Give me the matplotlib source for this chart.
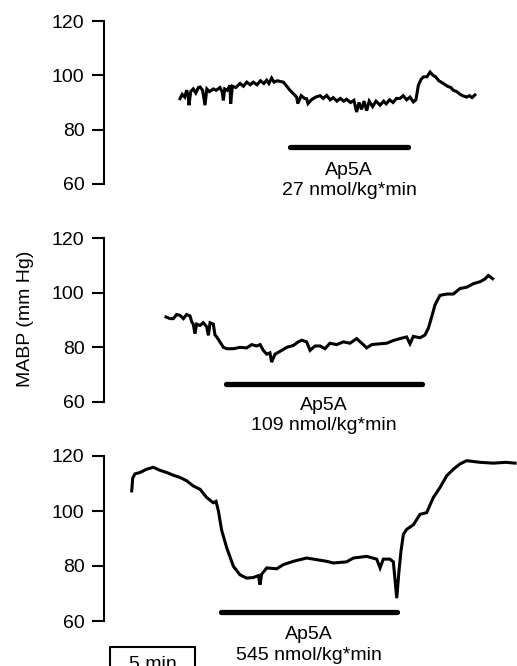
import matplotlib
matplotlib.use("Agg")
import matplotlib.pyplot as plt

plt.rcParams['font.family'] = ['Liberation Sans', 'DejaVu Sans']
plt.rcParams['font.size'] = 14

# time in minutes, pressure in mm Hg
top_t = [4.47, 4.6, 4.75, 4.86, 4.95, 5.0, 5.1, 5.25, 5.4, 5.55, 5.65, 5.8, 5.94, 6.05, 6.2,
         6.43, 6.6, 6.82, 6.95, 7.02, 7.1, 7.25, 7.41, 7.45, 7.55, 7.75, 8.0, 8.2, 8.4, 8.6,
         8.78, 9.0, 9.2, 9.4, 9.57, 9.7, 9.86, 10.0, 10.2, 10.55, 10.75, 10.94, 11.1, 11.33,
         11.4, 11.6, 11.8, 11.92, 12.0, 12.2, 12.45, 12.71, 12.9, 13.1, 13.3, 13.49, 13.7,
         13.9, 14.1, 14.27, 14.5, 14.7, 14.86, 15.0, 15.15, 15.3, 15.45, 15.6, 15.8, 16.0,
         16.24, 16.45, 16.6, 16.8, 17.0, 17.2, 17.41, 17.6, 17.8, 18.0, 18.2, 18.35, 18.49,
         18.65, 18.78, 19.0, 19.18, 19.35, 19.5, 19.7, 19.96, 20.2, 20.4, 20.55, 20.75, 20.95,
         21.1, 21.33, 21.5, 21.65, 21.82]
top_p = [91.4, 93, 92, 94.5, 92.5, 89, 94, 95, 93.5, 95.5, 95.7, 94.5, 89, 95, 94,
         95, 94.5, 95.5, 94, 90.8, 95, 94.5, 96.3, 89.5, 96, 95.5, 97, 96, 97.5, 96.5,
         97.5, 96.5, 98, 97, 98.2, 97, 99, 97.5, 98, 97.5, 96, 94.5, 93.5, 92,
         89.6, 92.5, 91.5, 91.4, 89.6, 91, 92, 92.5, 91.5, 92.6, 91, 91.8, 90.5,
         91.5, 90.5, 91.2, 90, 90.8, 86.5, 90, 87.5, 90.5, 87, 90.5, 88.5, 90.5,
         89, 90.5, 89.5, 91, 90, 91.5, 91.5, 92.5, 91, 92, 90.2, 91, 96.3,
         98.5, 99.4, 99.5, 101.2, 100, 99.5, 98, 97, 96, 95.5, 94.5, 94, 93,
         92.5, 92, 92.5, 91.8, 92.8]

mid_t = [3.65, 3.88, 4.08, 4.27, 4.47, 4.67, 4.86, 5.06, 5.16, 5.25, 5.35, 5.45, 5.65, 5.84,
         6.04, 6.14, 6.24, 6.43, 6.53, 6.63, 6.82, 7.02, 7.22, 7.61, 8.0, 8.39, 8.69, 8.98,
         9.18, 9.37, 9.57, 9.76, 9.86, 10.06, 10.35, 10.75, 11.14, 11.43, 11.63, 11.92, 12.12,
         12.41, 12.71, 13.0, 13.29, 13.69, 14.08, 14.47, 14.86, 15.25, 15.45, 15.75, 16.24,
         16.63, 17.02, 17.41, 17.8, 18.0, 18.2, 18.59, 18.88, 19.08, 19.27, 19.47, 19.76,
         20.16, 20.55, 20.94, 21.33, 21.73, 22.12, 22.41, 22.61, 22.86]
mid_p = [91.1, 90.5, 90.5, 92, 91.7, 90.5, 92, 91.5, 89.3, 88.5, 85, 88.5, 88, 89,
         87.5, 84.4, 89, 88.5, 84.5, 83.8, 82, 80, 79.5, 79.5, 80, 79.8, 81, 80.5,
         81, 78.9, 77.5, 78, 74.6, 77.5, 78.5, 80, 80.7, 82, 82.6, 82, 78.9,
         80.5, 80.5, 79.5, 81.5, 81, 82, 81.5, 83.2, 81, 79.8, 81, 81.3,
         81.5, 82.5, 83.2, 83.8, 81.3, 84, 83.5, 84.5, 87, 91, 95.5, 99,
         99.5, 99.5, 101.5, 102, 103.3, 104, 105, 106.3, 105.1]

bot_t = [1.63, 1.69, 1.82, 2.12, 2.51, 2.9, 3.29, 3.69, 4.08, 4.47, 4.86, 5.25, 5.65, 6.04,
         6.43, 6.59, 6.73, 6.92, 7.22, 7.61, 8.0, 8.39, 8.78, 9.08, 9.18, 9.27, 9.57, 10.16,
         10.55, 11.14, 11.92, 12.51, 13.1, 13.49, 14.27, 14.67, 15.45, 16.04, 16.24, 16.43,
         16.82, 17.02, 17.22, 17.35, 17.47, 17.61, 17.8, 18.2, 18.59, 18.98, 19.37, 19.76,
         20.16, 20.55, 20.94, 21.33, 22.12, 22.9, 23.63, 24.18]
bot_p = [107.3, 112, 113.5, 114, 115.2, 115.9, 114.8, 114, 113, 112.2, 111, 109.1, 107.9, 104.9,
         103, 103.5, 100, 93, 86.6, 79.9, 76.8, 75.6, 75.8, 76.5, 73.2, 77, 79.3, 79,
         80.5, 81.7, 82.9, 82.3, 81.7, 81.1, 81.5, 82.9, 83.5, 82.5, 79.3, 82.5,
         82.5, 81.5, 68.3, 78, 85.4, 91.5, 93.3, 95, 98.8, 99.4, 104.9, 108.5,
         112.8, 115.2, 117.1, 118.3, 117.7, 117.4, 117.7, 117.4]

# infusion periods (min) and doses
infusions = [(10.94, 17.9), (7.18, 18.7), (6.88, 17.25)]
doses = ['27 nmol/kg*min', '109 nmol/kg*min', '545 nmol/kg*min']
yticks = [60, 80, 100, 120]

W, H = 517, 666
fig = plt.figure(figsize=(W / 100, H / 100), dpi=100)

# panel placement in pixels: (y of 120, y of 60)
panel_px = [(21, 184), (238, 402), (456, 621)]
bar_y = [73.6, 66.7, 63.4]
label_y = [(63.2, 55.8), (57.2, 49.6), (53.3, 46.0)]
traces = [(top_t, top_p), (mid_t, mid_p), (bot_t, bot_p)]

axes = []
for i, (y120, y60) in enumerate(panel_px):
    ax = fig.add_axes([104 / W, (H - y60) / H, (W - 104) / W, (y60 - y120) / H])
    t, p = traces[i]
    ax.plot(t, p, color='black', lw=2.2, solid_joinstyle='miter')
    t0, t1 = infusions[i]
    ax.plot([t0, t1], [bar_y[i], bar_y[i]], color='black', lw=3.8,
            solid_capstyle='round', clip_on=False)
    xc = (t0 + t1) / 2
    ax.text(xc, label_y[i][0], 'Ap5A', ha='center', va='baseline', fontsize=14)
    ax.text(xc, label_y[i][1], doses[i], ha='center', va='baseline', fontsize=14)
    ax.set_xlim(0, (W - 104) / 17)
    ax.set_ylim(60, 120)
    ax.set_yticks(yticks)
    ax.set_xticks([])
    for s in ['top', 'right', 'bottom']:
        ax.spines[s].set_visible(False)
    ax.spines['left'].set_linewidth(1.5)
    ax.tick_params(axis='y', length=9, width=1.5, pad=5, labelsize=14)
    ax.patch.set_visible(False)
    axes.append(ax)

# 5 min scale bar under the bottom panel (cut by the lower edge, as in the original)
ax = axes[2]
ax.plot([0.35, 0.35, 5.35, 5.35], [42, 50.5, 50.5, 42], color='black', lw=1.5, clip_on=False)
ax.text(2.85, 47.2, '5 min', ha='center', va='top', fontsize=14)

fig.text(25 / W, 1 - 319 / H, 'MABP (mm Hg)', rotation=90, ha='center', va='center', fontsize=14)

fig.savefig('out.png', dpi=100)
